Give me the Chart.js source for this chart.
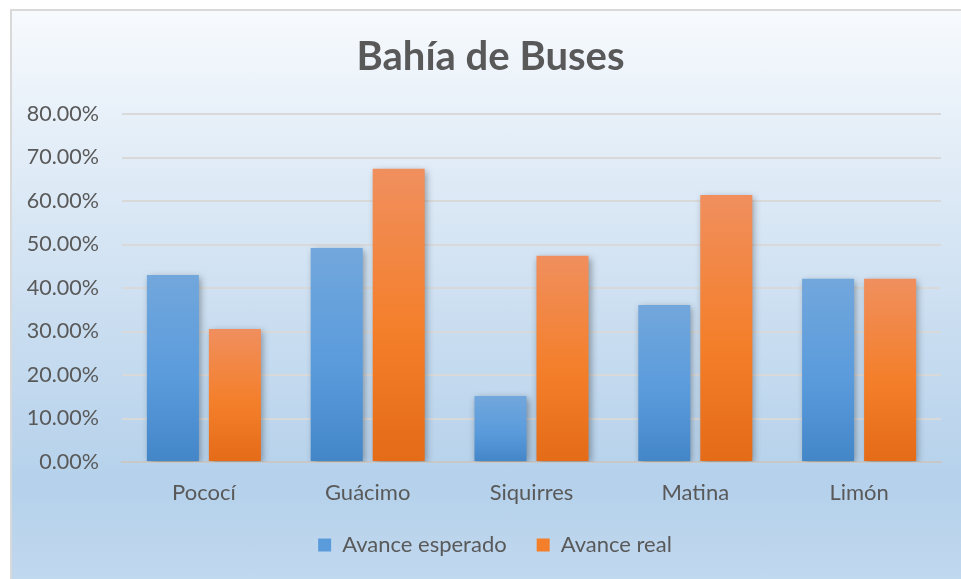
<!DOCTYPE html>
<html><head><meta charset="utf-8">
<script src="https://cdn.jsdelivr.net/npm/chart.js@4/dist/chart.umd.min.js"></script>
<style>
html,body{margin:0;padding:0;background:#fff;width:961px;height:579px;overflow:hidden}
#bg{position:absolute;left:10px;top:9px;width:962px;height:582px;border:2px solid #d9d9d9;box-sizing:border-box;
background:linear-gradient(to bottom,#f7fafd 0%,#e4eef8 22%,#c9ddf0 55%,#b5d1eb 82%,#c2d9ef 100%)}
#wrap{position:absolute;left:0;top:0;width:961px;height:579px}
</style></head><body>
<div id="bg"></div>
<div id="wrap"><canvas id="c" width="961" height="579"></canvas></div>
<script>
const chartTitle = 'Bahía de Buses';
const categories = ['Pococí', 'Guácimo', 'Siquirres', 'Matina', 'Limón'];
const avanceEsperado = [43.0, 49.2, 15.2, 36.1, 42.1];
const avanceReal = [30.6, 67.4, 47.4, 61.4, 42.1];
const seriesNames = ['Avance esperado', 'Avance real'];
const yMin = 0, yMax = 80, yStep = 10;

const blueStops = ['#72a7dc', '#5a9bdc', '#4386c7'];
const orangeStops = ['#f08f5e', '#f47f2b', '#e46b18'];

function barGradient(stops) {
  return function (ctx) {
    const chart = ctx.chart;
    if (ctx.type !== 'data' || !chart.chartArea || !chart.scales.y) return stops[1];
    const y = chart.scales.y;
    const top = y.getPixelForValue(ctx.raw);
    const base = y.getPixelForValue(0);
    if (!isFinite(top) || !isFinite(base) || base - top < 1) return stops[1];
    const g = chart.ctx.createLinearGradient(0, top, 0, base);
    g.addColorStop(0, stops[0]);
    g.addColorStop(0.55, stops[1]);
    g.addColorStop(1, stops[2]);
    return g;
  };
}

const FONT = 'Lato, "Open Sans", sans-serif';
const TXT = '#595959';

const shadowPlugin = {
  id: 'barShadow',
  beforeDatasetsDraw(chart) {
    const c = chart.ctx;
    c.save();
    c.shadowColor = 'rgba(0,0,0,0.35)';
    c.shadowBlur = 7;
    c.shadowOffsetX = 2;
    c.shadowOffsetY = 2;
  },
  afterDatasetsDraw(chart) { chart.ctx.restore(); }
};

// Title centred on the chart object (Excel-style), not on the canvas
const titlePlugin = {
  id: 'excelTitle',
  afterDraw(chart) {
    const c = chart.ctx;
    c.save();
    c.font = 'bold 40px ' + FONT;
    c.fillStyle = TXT;
    c.textAlign = 'center';
    c.textBaseline = 'middle';
    c.fillText(chartTitle, 490.5, 57);
    c.restore();
  }
};

// Centre the legend on the chart object as well
const legendShift = {
  id: 'legendShift',
  afterLayout(chart) {
    if (chart.legend) chart.legend.left += 49;
  }
};

new Chart(document.getElementById('c'), {
  type: 'bar',
  data: {
    labels: categories,
    datasets: [
      { label: seriesNames[0], data: avanceEsperado, backgroundColor: barGradient(blueStops), borderWidth: 0 },
      { label: seriesNames[1], data: avanceReal, backgroundColor: barGradient(orangeStops), borderWidth: 0 }
    ]
  },
  options: {
    responsive: false,
    animation: false,
    devicePixelRatio: 1,
    categoryPercentage: 0.757,
    barPercentage: 0.839,
    layout: { padding: { left: 0, right: 20, top: 114, bottom: 13 } },
    plugins: {
      title: { display: false },
      legend: {
        position: 'bottom',
        labels: {
          color: TXT, font: { family: FONT, size: 22 },
          boxWidth: 13, boxHeight: 13, padding: 30,
          generateLabels(chart) {
            const items = Chart.defaults.plugins.legend.labels.generateLabels(chart);
            const solid = [blueStops[1], orangeStops[1]];
            items.forEach((it, i) => { it.fillStyle = solid[i]; it.strokeStyle = solid[i]; it.lineWidth = 0; });
            return items;
          }
        }
      },
      tooltip: { enabled: false }
    },
    scales: {
      x: {
        grid: { display: false, drawTicks: false },
        border: { display: true, color: '#c8c8c8', width: 2 },
        ticks: { color: TXT, font: { family: FONT, size: 22 }, padding: 18 },
        afterFit(scale) { scale.height = 42; }
      },
      y: {
        min: yMin, max: yMax,
        grid: { color: '#d9d9d9', lineWidth: 2, drawTicks: false },
        border: { display: false },
        ticks: {
          stepSize: yStep, color: TXT, font: { family: FONT, size: 21.5 }, padding: 23,
          callback: v => v.toFixed(2) + '%'
        },
        afterFit(scale) { scale.width = 122; }
      }
    }
  },
  plugins: [shadowPlugin, titlePlugin, legendShift]
});
</script>
</body></html>
